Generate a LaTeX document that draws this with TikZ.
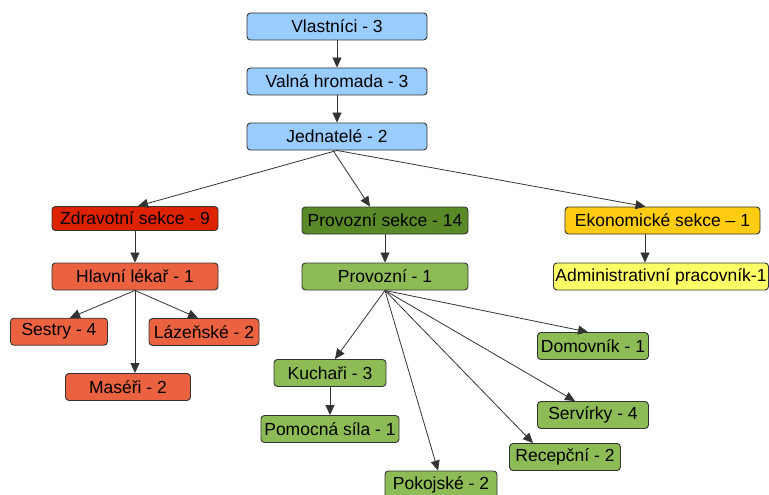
\documentclass[tikz,border=0pt]{standalone}
\usepackage{fontspec}
\setmainfont{Liberation Sans}
\usetikzlibrary{arrows.meta}
\definecolor{cblue}{HTML}{99CCFF}
\definecolor{cdred}{HTML}{DD2200}
\definecolor{csalmon}{HTML}{EB6240}
\definecolor{cdgreen}{HTML}{5A8A28}
\definecolor{clgreen}{HTML}{8DBB55}
\definecolor{cgold}{HTML}{FFCC11}
\definecolor{cyel}{HTML}{FFFF66}
\definecolor{cline}{HTML}{333333}
\tikzset{
  box/.style={draw=cline, line width=0.9pt, rounded corners=3.5pt, inner sep=0pt,
    minimum height=27pt, font=\fontsize{17.5}{19}\selectfont, text=black},
  conn/.style={draw=cline, line width=0.8pt, -{Triangle[length=10pt,width=9pt]}},
}
\begin{document}
\begin{tikzpicture}[x=1pt,y=-1pt]
\useasboundingbox (0,0) rectangle (769,495);
\node[box, fill=cblue, minimum width=180pt] (vl) at (337,26.5) {Vlastníci - 3};
\node[box, fill=cblue, minimum width=180pt] (vh) at (337,81.5) {Valná hromada - 3};
\node[box, fill=cblue, minimum width=180pt] (jd) at (337,136.5) {Jednatelé - 2};
\node[box, fill=cdred, minimum width=166pt, minimum height=24pt] (zs) at (135,218.5) {Zdravotní sekce - 9};
\node[box, fill=csalmon, minimum width=166pt] (hl) at (135,276.5) {Hlavní lékař - 1};
\node[box, fill=csalmon, minimum width=97pt] (se) at (59,331.7) {Sestry - 4};
\node[box, fill=csalmon, minimum width=110pt] (la) at (204,332) {Lázeňské - 2};
\node[box, fill=csalmon, minimum width=125pt] (ma) at (128,387) {Maséři - 2};
\node[box, fill=cdgreen, minimum width=166pt] (ps) at (385,220.5) {Provozní sekce - 14};
\node[box, fill=clgreen, minimum width=166pt] (pr) at (385,276.5) {Provozní - 1};
\node[box, fill=clgreen, minimum width=112pt] (ku) at (330,373) {Kuchaři - 3};
\node[box, fill=clgreen, minimum width=138pt] (po) at (330,429) {Pomocná síla - 1};
\node[box, fill=clgreen, minimum width=112pt] (pk) at (441,484.5) {Pokojské - 2};
\node[box, fill=cgold, minimum width=195pt] (ek) at (662.5,220.5) {Ekonomické sekce – 1};
\node[box, fill=cyel, minimum width=215pt] (ad) at (661,276.5) {Administrativní pracovník-1};
\node[box, fill=clgreen, minimum width=111pt] (dm) at (593,346) {Domovník - 1};
\node[box, fill=clgreen, minimum width=111pt] (sv) at (593,415) {Servírky - 4};
\node[box, fill=clgreen, minimum width=111pt] (rc) at (565,457) {Recepční - 2};

\draw[conn] (vl) -- (vh);
\draw[conn] (vh) -- (jd);
\draw[conn] (jd.south) -- ([xshift=3pt]zs.north);
\draw[conn] ([xshift=-4pt]jd.south) -- ([xshift=-15pt]ps.north);
\draw[conn] (jd.south) -- ([xshift=-17pt]ek.north);
\draw[conn] (zs) -- (hl);
\draw[conn] (hl.south) -- ([xshift=11pt]se.north);
\draw[conn] (hl.south) -- ([xshift=-6pt]la.north);
\draw[conn] (hl.south) -- (hl.south |- ma.north);
\draw[conn] (ps) -- (pr);
\draw[conn] ([xshift=-17.5pt]ek.south) -- ([xshift=-16pt]ad.north);
\draw[conn] (pr.south) -- ([xshift=5pt]ku.north);
\draw[conn] (ku.south) -- (ku.south |- po.north);
\draw[conn] (pr.south) -- ([xshift=-3pt]pk.north);
\draw[conn] (pr.south) -- ([xshift=-5pt]dm.north);
\draw[conn] (pr.south) -- ([xshift=-18pt]sv.north);
\draw[conn] (pr.south) -- ([xshift=-32pt]rc.north);
\end{tikzpicture}
\end{document}
